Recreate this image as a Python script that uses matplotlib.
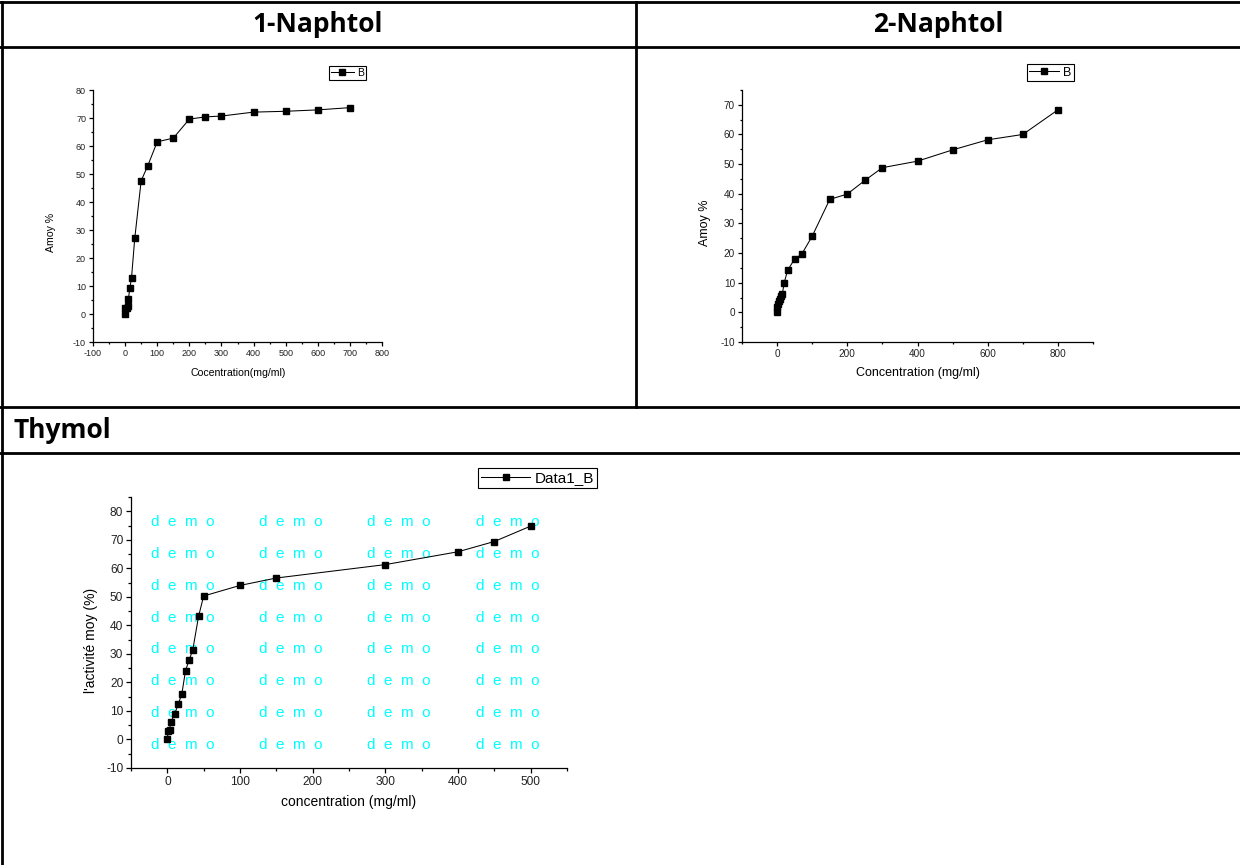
import matplotlib
matplotlib.use('Agg')
import matplotlib.pyplot as plt
from matplotlib.lines import Line2D
from matplotlib.ticker import MultipleLocator

# 1-Naphtol
naph1_conc = [0, 1, 5, 8, 10, 15, 20, 30, 50, 70, 100, 150, 200, 250, 300, 400, 500, 600, 700]
naph1_amoy = [0, 2.2, 2.0, 3.0, 5.3, 9.3, 13.0, 27.0, 47.6, 52.8, 61.5, 62.8, 69.6, 70.4, 70.7,
              72.1, 72.4, 72.9, 73.7]

# 2-Naphtol
naph2_conc = [0, 1, 3, 5, 7, 10, 15, 20, 30, 50, 70, 100, 150, 200, 250, 300, 400, 500, 600, 700, 800]
naph2_amoy = [0, 1.8, 2.9, 3.7, 4.6, 5.4, 6.3, 9.9, 14.2, 18.0, 19.6, 25.7, 38.1, 39.9, 44.5, 48.8,
              51.0, 54.8, 58.2, 60.0, 68.3]

# Thymol
thym_conc = [0, 1, 3, 5, 10, 15, 20, 25, 30, 35, 43, 50, 100, 150, 300, 400, 450, 500]
thym_act = [0, 2.8, 3.4, 6.3, 8.9, 12.4, 16.0, 24.1, 27.9, 31.4, 43.2, 50.3, 54.0, 56.6, 61.3,
            65.8, 69.4, 74.8]

headers = ['1-Naphtol', '2-Naphtol', 'Thymol']

plt.rcParams['font.family'] = ['Liberation Sans', 'DejaVu Sans']
plt.rcParams['axes.unicode_minus'] = False

W, H = 1240, 865
fig = plt.figure(figsize=(12.4, 8.65), dpi=100)


def fx(px):
    return px / W


def fy(py):
    return 1 - py / H


def origin_axes(rect, xlim, ylim, xmaj, ymaj, tick_fs, tick_len):
    ax = fig.add_axes(rect)
    ax.spines['top'].set_visible(False)
    ax.spines['right'].set_visible(False)
    for s in ('left', 'bottom'):
        ax.spines[s].set_linewidth(0.9)
    ax.set_xlim(*xlim)
    ax.set_ylim(*ylim)
    ax.xaxis.set_major_locator(MultipleLocator(xmaj))
    ax.xaxis.set_minor_locator(MultipleLocator(xmaj / 2))
    ax.yaxis.set_major_locator(MultipleLocator(ymaj))
    ax.yaxis.set_minor_locator(MultipleLocator(ymaj / 2))
    ax.tick_params(which='major', direction='out', length=tick_len, width=0.9,
                   labelsize=tick_fs, labelcolor='#222222', pad=2)
    ax.tick_params(which='minor', direction='out', length=tick_len * 0.55, width=0.9)
    ax.patch.set_alpha(0)
    return ax


def boxed_legend(ax, anchor, fs, hl):
    leg = ax.legend(loc='upper right', bbox_to_anchor=anchor, bbox_transform=fig.transFigure,
                    fontsize=fs, frameon=True, fancybox=False, edgecolor='black',
                    borderpad=0.2, handlelength=hl, handletextpad=0.3, borderaxespad=0,
                    framealpha=1)
    leg.get_frame().set_linewidth(0.8)
    return leg


# --- table grid lines
lw = 2.0
for y in (2, 47, 407, 453):
    fig.add_artist(Line2D([0, 1], [fy(y), fy(y)], color='black', lw=lw))
fig.add_artist(Line2D([fx(2), fx(2)], [fy(2), 0], color='black', lw=lw))
fig.add_artist(Line2D([fx(636), fx(636)], [fy(2), fy(407)], color='black', lw=lw))

hfont = dict(family='Open Sans', fontweight='bold', fontsize=19)
fig.text(fx(318), fy(25), headers[0], ha='center', va='center', **hfont)
fig.text(fx(938), fy(25), headers[1], ha='center', va='center', **hfont)
fig.text(fx(14), fy(430), headers[2], ha='left', va='center', **hfont)

# --- 1-Naphtol
ax1 = origin_axes([fx(93), fy(342), fx(382 - 93), (342 - 90) / H],
                  (-100, 800), (-10, 80), 100, 10, 6.5, 3)
ax1.plot(naph1_conc, naph1_amoy, color='black', lw=0.75, marker='s', ms=3.8, label='B')
ax1.set_xlabel('Cocentration(mg/ml)', fontsize=7.6)
ax1.set_ylabel('Amoy %', fontsize=7.6)
ax1.xaxis.set_label_coords(0.502, -0.123)
ax1.xaxis.label.set_va('center')
ax1.yaxis.set_label_coords(-0.145, 0.433)
ax1.yaxis.label.set_va('center')
boxed_legend(ax1, (fx(366), fy(66)), 7.5, 2.2)

# --- 2-Naphtol
ax2 = origin_axes([fx(742), fy(342), fx(1093 - 742), (342 - 90) / H],
                  (-100, 900), (-10, 75), 200, 10, 7.2, 3)
ax2.xaxis.set_minor_locator(MultipleLocator(100))
ax2.yaxis.set_minor_locator(MultipleLocator(5))
ax2.plot(naph2_conc, naph2_amoy, color='black', lw=0.75, marker='s', ms=4, label='B')
ax2.set_xlabel('Concentration (mg/ml)', fontsize=9)
ax2.set_ylabel('Amoy %', fontsize=9)
ax2.xaxis.set_label_coords(0.501, -0.123)
ax2.xaxis.label.set_va('center')
ax2.yaxis.set_label_coords(-0.105, 0.472)
ax2.yaxis.label.set_va('center')
boxed_legend(ax2, (fx(1074), fy(64)), 9, 2.4)

# --- Thymol
ax3 = origin_axes([fx(131), fy(768), fx(567 - 131), (768 - 497) / H],
                  (-50, 550), (-10, 85), 100, 10, 8.6, 3.6)
ax3.plot(thym_conc, thym_act, color='black', lw=0.75, marker='s', ms=4.8, label='Data1_B', zorder=3)
ax3.set_xlabel('concentration (mg/ml)', fontsize=10)
ax3.set_ylabel("l'activité moy (%)", fontsize=10)
ax3.xaxis.set_label_coords(0.498, -0.125)
ax3.xaxis.label.set_va('center')
ax3.yaxis.set_label_coords(-0.092, 0.472)
ax3.yaxis.label.set_va('center')
boxed_legend(ax3, (fx(597), fy(468)), 11, 3.2)

# demo watermark grid
for i in range(4):
    for j in range(8):
        ax3.text(0.045 + i * 0.2486, 0.908 - j * 0.1176, 'd  e  m  o', transform=ax3.transAxes,
                 color='#00ffff', fontsize=11, ha='left', va='center', zorder=1)

fig.savefig('out.png', dpi=100)
